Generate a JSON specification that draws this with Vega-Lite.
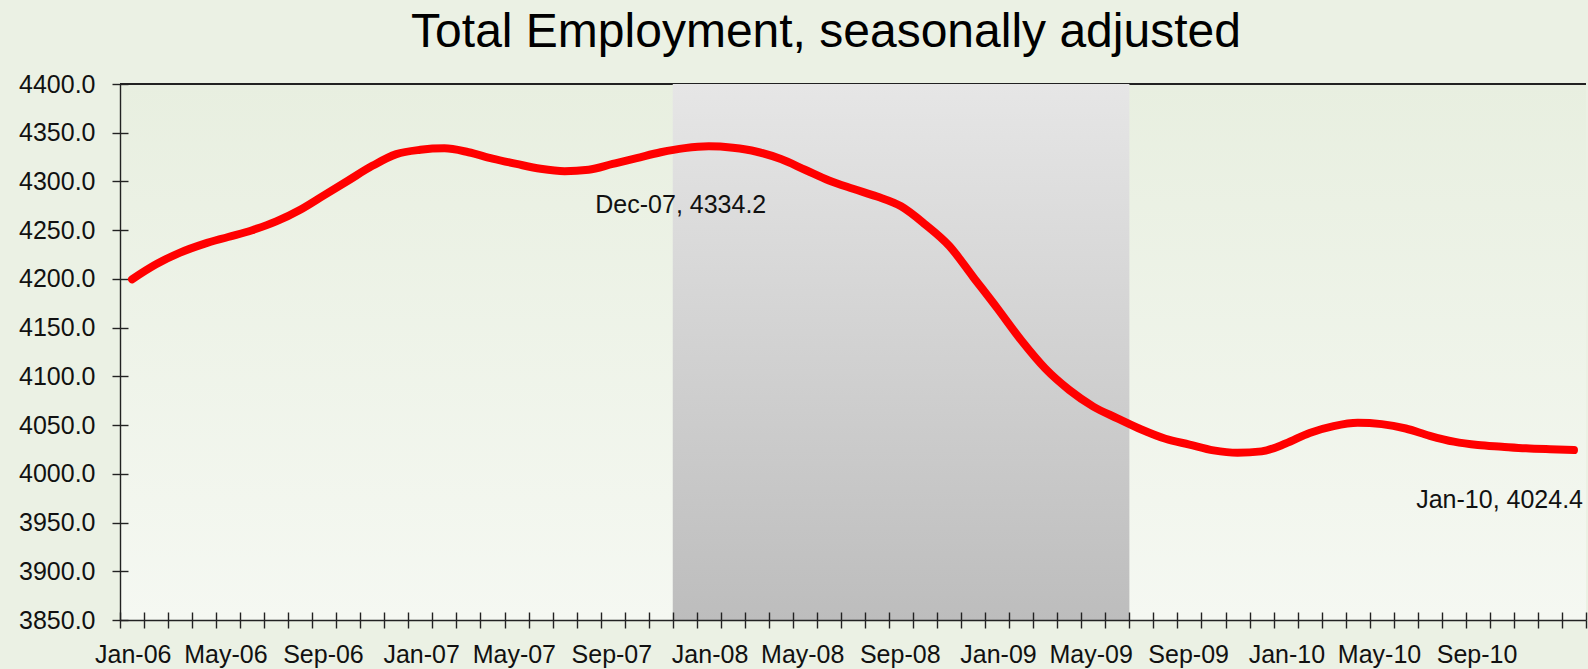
{
  "$schema": "https://vega.github.io/schema/vega-lite/v6.json",
  "autosize": "none",
  "width": 1466,
  "height": 536,
  "padding": {"left": 120, "top": 84, "right": 2, "bottom": 49},
  "background": "#ebf1e4",
  "config": {
    "font": "Liberation Sans",
    "view": {
      "stroke": null,
      "fill": {"gradient": "linear", "x1": 0, "y1": 0, "x2": 0, "y2": 1,
        "stops": [{"offset": 0, "color": "#e8efe0"}, {"offset": 1, "color": "#f5f8f2"}]}
    },
    "axis": {
      "title": null,
      "labelFont": "Liberation Sans",
      "labelFontSize": 25,
      "labelColor": "#111111",
      "domainColor": "#222222",
      "domainWidth": 1.4,
      "tickColor": "#222222",
      "tickWidth": 1.4,
      "tickSize": 8,
      "grid": true,
      "gridColor": "#222222",
      "gridWidth": 1.4,
      "gridDash": [8, 3000]
    }
  },
  "title": {
    "text": "Total Employment, seasonally adjusted",
    "font": "Liberation Sans",
    "fontSize": 48,
    "fontWeight": "normal",
    "color": "#000000",
    "anchor": "middle",
    "frame": "group",
    "dx": -27,
    "offset": 15
  },
  "datasets": {
    "employment": [
      {"month": "Jan-06", "value": 4199.6},
      {"month": "Feb-06", "value": 4215.0},
      {"month": "Mar-06", "value": 4227.0},
      {"month": "Apr-06", "value": 4236.0},
      {"month": "May-06", "value": 4243.0},
      {"month": "Jun-06", "value": 4250.0},
      {"month": "Jul-06", "value": 4259.0},
      {"month": "Aug-06", "value": 4271.0},
      {"month": "Sep-06", "value": 4286.0},
      {"month": "Oct-06", "value": 4301.0},
      {"month": "Nov-06", "value": 4316.0},
      {"month": "Dec-06", "value": 4328.0},
      {"month": "Jan-07", "value": 4332.5},
      {"month": "Feb-07", "value": 4334.0},
      {"month": "Mar-07", "value": 4330.0},
      {"month": "Apr-07", "value": 4323.5},
      {"month": "May-07", "value": 4318.0},
      {"month": "Jun-07", "value": 4313.0},
      {"month": "Jul-07", "value": 4310.5},
      {"month": "Aug-07", "value": 4312.0},
      {"month": "Sep-07", "value": 4318.0},
      {"month": "Oct-07", "value": 4324.0},
      {"month": "Nov-07", "value": 4330.0},
      {"month": "Dec-07", "value": 4334.2, "label": "Dec-07, 4334.2"},
      {"month": "Jan-08", "value": 4336.0},
      {"month": "Feb-08", "value": 4334.5},
      {"month": "Mar-08", "value": 4330.5},
      {"month": "Apr-08", "value": 4323.0},
      {"month": "May-08", "value": 4312.0},
      {"month": "Jun-08", "value": 4301.0},
      {"month": "Jul-08", "value": 4292.5},
      {"month": "Aug-08", "value": 4284.5},
      {"month": "Sep-08", "value": 4274.5},
      {"month": "Oct-08", "value": 4256.0},
      {"month": "Nov-08", "value": 4234.0},
      {"month": "Dec-08", "value": 4202.0},
      {"month": "Jan-09", "value": 4170.0},
      {"month": "Feb-09", "value": 4137.0},
      {"month": "Mar-09", "value": 4108.0},
      {"month": "Apr-09", "value": 4086.0},
      {"month": "May-09", "value": 4069.0},
      {"month": "Jun-09", "value": 4057.0},
      {"month": "Jul-09", "value": 4045.5},
      {"month": "Aug-09", "value": 4036.0},
      {"month": "Sep-09", "value": 4030.0},
      {"month": "Oct-09", "value": 4024.0},
      {"month": "Nov-09", "value": 4021.5},
      {"month": "Dec-09", "value": 4023.0},
      {"month": "Jan-10", "value": 4031.0},
      {"month": "Feb-10", "value": 4042.0},
      {"month": "Mar-10", "value": 4049.0},
      {"month": "Apr-10", "value": 4052.4},
      {"month": "May-10", "value": 4051.0},
      {"month": "Jun-10", "value": 4046.5},
      {"month": "Jul-10", "value": 4039.0},
      {"month": "Aug-10", "value": 4033.0},
      {"month": "Sep-10", "value": 4029.5},
      {"month": "Oct-10", "value": 4027.8},
      {"month": "Nov-10", "value": 4026.2},
      {"month": "Dec-10", "value": 4025.2},
      {"month": "Jan-11", "value": 4024.4, "label": "Jan-10, 4024.4"}
    ],
    "recession": [{"start": "Dec-07", "end": "Jul-09"}]
  },
  "layer": [
    {
      "data": {"name": "employment"},
      "mark": {"type": "rule", "color": "#222222", "strokeWidth": 1.4},
      "encoding": {"y": {"datum": 4400}}
    },
    {
      "data": {"name": "recession"},
      "mark": {
        "type": "rect",
        "fill": {"gradient": "linear", "x1": 0, "y1": 0, "x2": 0, "y2": 1,
          "stops": [{"offset": 0, "color": "#e6e6e6"}, {"offset": 1, "color": "#bdbdbd"}]}
      },
      "encoding": {
        "x": {"field": "start", "type": "nominal", "bandPosition": 0},
        "x2": {"field": "end", "bandPosition": 0},
        "y": {"datum": 4400},
        "y2": {"datum": 3850}
      }
    },
    {
      "data": {"name": "employment"},
      "mark": {"type": "line", "color": "#ff0000", "strokeWidth": 8, "interpolate": "monotone", "strokeCap": "round", "strokeJoin": "round"},
      "encoding": {
        "x": {
          "field": "month",
          "type": "nominal",
          "sort": null,
          "scale": {
            "type": "band",
            "paddingInner": 0,
            "paddingOuter": 0,
            "domain": ["Jan-06","Feb-06","Mar-06","Apr-06","May-06","Jun-06","Jul-06","Aug-06","Sep-06","Oct-06","Nov-06","Dec-06",
                       "Jan-07","Feb-07","Mar-07","Apr-07","May-07","Jun-07","Jul-07","Aug-07","Sep-07","Oct-07","Nov-07","Dec-07",
                       "Jan-08","Feb-08","Mar-08","Apr-08","May-08","Jun-08","Jul-08","Aug-08","Sep-08","Oct-08","Nov-08","Dec-08",
                       "Jan-09","Feb-09","Mar-09","Apr-09","May-09","Jun-09","Jul-09","Aug-09","Sep-09","Oct-09","Nov-09","Dec-09",
                       "Jan-10","Feb-10","Mar-10","Apr-10","May-10","Jun-10","Jul-10","Aug-10","Sep-10","Oct-10","Nov-10","Dec-10",
                       "Jan-11"]
          },
          "axis": {
            "tickBand": "extent",
            "labelAngle": 0,
            "labelOverlap": false,
            "labelPadding": 26,
            "labelOffset": 39,
            "gridDash": [0, 528, 8, 3000],
            "labelExpr": "(isString(datum.value) && indexof(['Jan-', 'May-', 'Sep-'], substring(datum.value, 0, 4)) >= 0 && datum.value != 'Jan-11') ? datum.value : ''"
          }
        },
        "y": {
          "field": "value",
          "type": "quantitative",
          "scale": {"domain": [3850, 4400], "nice": false, "zero": false},
          "axis": {
            "values": [3850, 3900, 3950, 4000, 4050, 4100, 4150, 4200, 4250, 4300, 4350, 4400],
            "format": ".1f",
            "labelPadding": 17
          }
        }
      }
    },
    {
      "data": {"name": "employment"},
      "transform": [{"filter": "datum.month == 'Dec-07'"}],
      "mark": {"type": "text", "fontSize": 25, "font": "Liberation Sans", "color": "#111111", "align": "center", "baseline": "middle", "dx": -4, "dy": 57},
      "encoding": {
        "x": {"field": "month", "type": "nominal"},
        "y": {"field": "value", "type": "quantitative"},
        "text": {"field": "label"}
      }
    },
    {
      "data": {"name": "employment"},
      "transform": [{"filter": "datum.month == 'Jan-11'"}],
      "mark": {"type": "text", "fontSize": 25, "font": "Liberation Sans", "color": "#111111", "align": "right", "baseline": "middle", "dx": 9, "dy": 50},
      "encoding": {
        "x": {"field": "month", "type": "nominal"},
        "y": {"field": "value", "type": "quantitative"},
        "text": {"field": "label"}
      }
    }
  ]
}
